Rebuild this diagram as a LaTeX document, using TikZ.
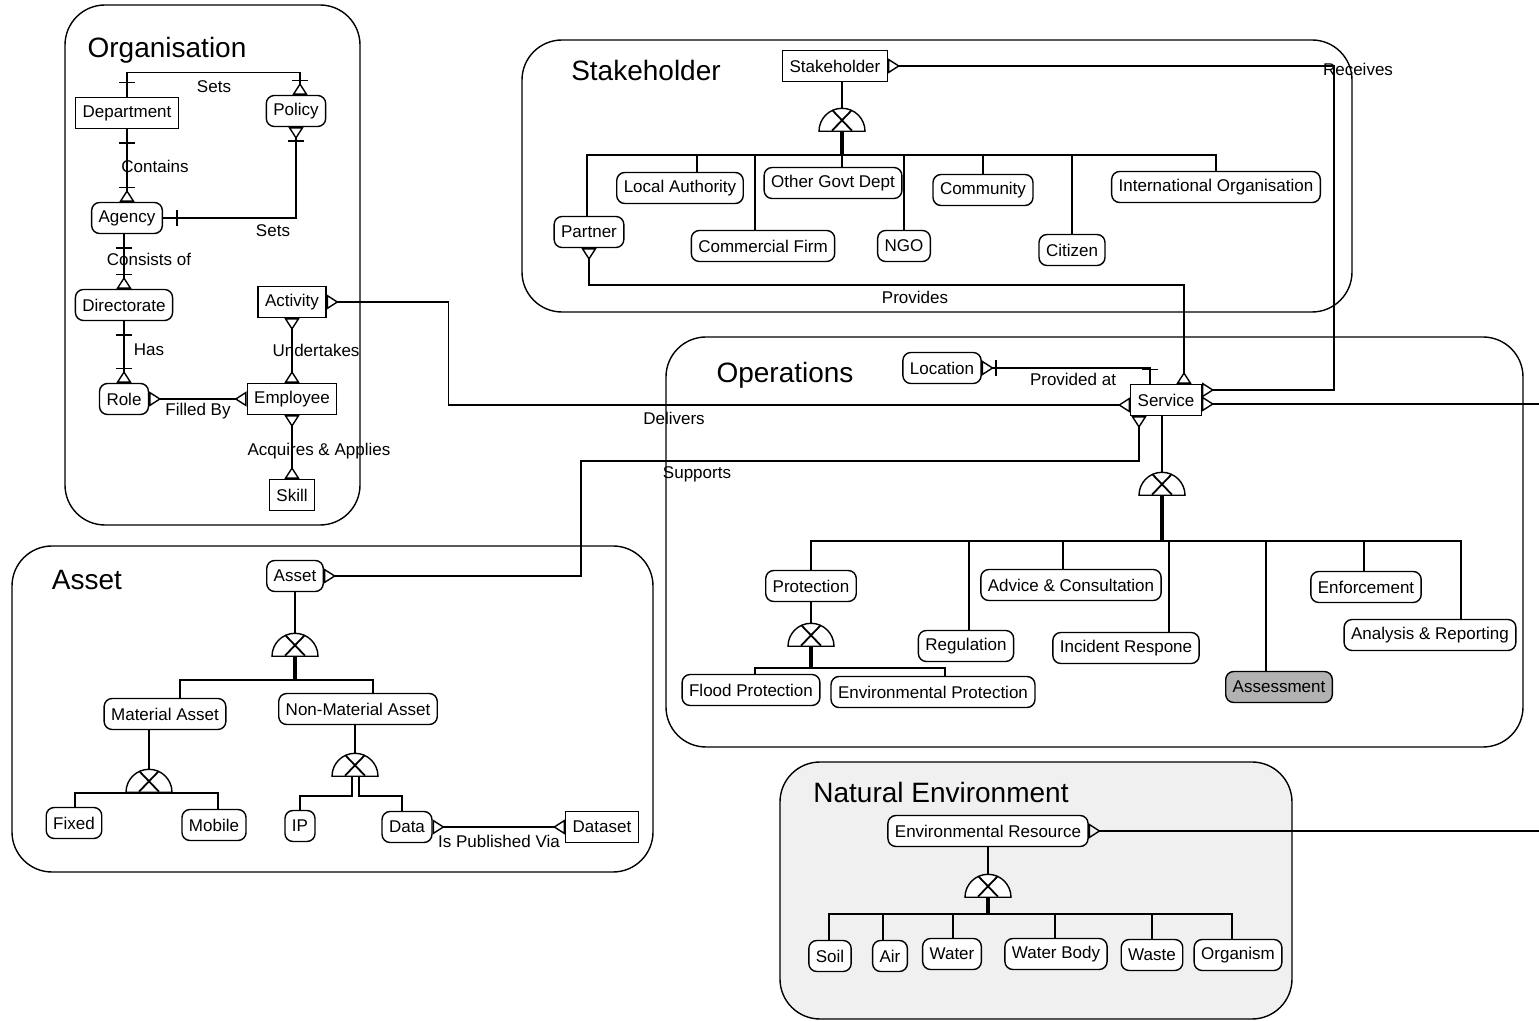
\documentclass[tikz,border=0pt]{standalone}
\usepackage{fontspec}
\setmainfont{Liberation Sans}
\usetikzlibrary{arrows.meta,shapes.geometric,decorations.markings}

\tikzset{
  >={Triangle[open,reversed,length=6pt,width=7.5pt]},
  entity/.style={draw, fill=white, font=\fontsize{8.5}{10}\selectfont, minimum height=15.5pt, inner xsep=3.5pt, inner ysep=0pt},
  thing/.style={entity, rounded corners=4pt},
  grp/.style={draw, rounded corners=20pt},
  grptitle/.style={font=\fontsize{14}{16}\selectfont},
  rel/.style={font=\fontsize{8.5}{10}\selectfont},
  trunk/.style={line width=1.6pt},
  % exclusive sub-types
  xorgate/.style={semicircle, draw, fill=white, inner sep=0pt, minimum width=23pt, minimum height=11.5pt,
    path picture={\draw[line width=0.9pt]
      ([shift={(-5pt,0.3pt)}]path picture bounding box.south) -- ([shift={(5pt,-0.8pt)}]path picture bounding box.north)
      ([shift={(5pt,0.3pt)}]path picture bounding box.south) -- ([shift={(-5pt,-0.8pt)}]path picture bounding box.north);}},
  bar start/.style={postaction={decorate,decoration={markings,mark=at position 7pt with {\draw[-] (0,-4pt) -- (0,4pt);}}}},
  bar end/.style={postaction={decorate,decoration={markings,mark=at position -7pt with {\draw[-] (0,-4pt) -- (0,4pt);}}}}
}

\begin{document}
\begin{tikzpicture}[x=0.5pt, y=-0.5pt, line width=0.7pt]
  \useasboundingbox (0,0) rectangle (1539,1021);

  % groups
  \draw[grp] (65,5) rectangle (360,525);
  \draw[grp] (522,40) rectangle (1352,312);
  \draw[grp] (666,337) rectangle (1523,747);
  \draw[grp] (12,546) rectangle (653,872);
  \draw[grp, fill=black!6] (780,762) rectangle (1292,1019);

  \node[grptitle] (torg) at (167,50) {Organisation};
  \node[grptitle] (tstake) at (646,70) {Stakeholder};
  \node[grptitle] (tops) at (785,375) {Operations};
  \node[grptitle] (tasset) at (87,580) {Asset};
  \node[grptitle] (tnat) at (941,792) {Natural Environment};

  % Organisation
  \node[entity] (dept) at (127,113) {Department};
  \node[thing] (policy) at (296,111) {Policy};
  \node[thing] (agency) at (127,218) {Agency};
  \node[thing] (directorate) at (124,305) {Directorate};
  \node[entity] (activity) at (292,302) {Activity};
  \node[thing] (role) at (124,399) {Role};
  \node[entity] (employee) at (292,399) {Employee};
  \node[entity] (skill) at (292,495) {Skill};

  \draw[bar start, bar end, ->] (dept.north) -- ++(0,-24) -| ([xshift=2pt]policy.north) node[rel] (lsets1) at (214,87) {Sets};
  \draw[bar start, bar end, ->] (dept.south) -- (agency.north) node[rel] (lcontains) at (155,166) {Contains};
  \draw[bar start, bar end, <-] (policy.south) |- (agency.east) node[rel] (lsets2) at (273,231) {Sets};
  \draw[bar start, bar end, ->] ([xshift=-1.5pt]agency.south) -- (directorate.north) node[rel] (lconsists) at (149,259) {Consists of};
  \draw[bar start, bar end, ->] (directorate.south) -- (role.north) node[rel] (lhas) at (149,350) {Has};
  \draw[<->] (activity.south) -- (employee.north) node[rel] (lundertakes) at (316,350) {Undertakes};
  \draw[<->] (role.east) -- (employee.west) node[rel] (lfilled) at (198,411) {Filled By};
  \draw[<->] (employee.south) -- (skill.north) node[rel] (lacquires) at (319,451) {Acquires \& Applies};

  % Stakeholder
  \node[entity] (stakeholder) at (835,66) {Stakeholder};
  \node[thing] (partner) at (589,232) {Partner};
  \node[thing] (localauth) at (680,188) {Local Authority};
  \node[thing] (commercial) at (763,246) {Commercial Firm};
  \node[thing] (othergovt) at (833,183) {Other Govt Dept};
  \node[thing] (ngo) at (904,246) {NGO};
  \node[thing] (community) at (983,190) {Community};
  \node[thing] (citizen) at (1072,250) {Citizen};
  \node[thing] (intorg) at (1216,187) {International Organisation};

  \node[xorgate, anchor=chord center] (sgate) at (842,132) {};
  \coordinate (sbar) at (842,155);
  \draw ([xshift=3.5pt]stakeholder.south) -- (sgate.apex);
  \draw[trunk] (sgate.chord center) -- (sbar);
  \foreach \c/\dx in {partner/-1,localauth/8.5,commercial/-4,othergovt/4.5,ngo/0,community/0,citizen/0,intorg/0}
    \draw (sbar) -| ([xshift=\dx pt]\c.north);

  % Operations
  \node[thing] (location) at (942,368) {Location};
  \node[entity] (service) at (1166,400) {Service};
  \node[thing] (protection) at (811,586) {Protection};
  \node[thing] (regulation) at (966,646) {Regulation};
  \node[thing] (advice) at (1071,585) {Advice \& Consultation};
  \node[thing] (incident) at (1126,648) {Incident Respone};
  \node[thing, fill=black!30] (assessment) at (1279,687) {Assessment};
  \node[thing] (enforcement) at (1366,587) {Enforcement};
  \node[thing] (analysis) at (1430,635) {Analysis \& Reporting};
  \node[thing] (flood) at (751,690) {Flood Protection};
  \node[thing] (envprot) at (933,692) {Environmental Protection};

  \node[xorgate, anchor=chord center] (ogate) at (1162,496) {};
  \coordinate (obar) at (1162,541);
  \draw ([xshift=-2pt]service.south) -- (ogate.apex);
  \draw[trunk] (ogate.chord center) -- (obar);
  \foreach \c/\dx in {protection/0,regulation/1.5,advice/-4,incident/21.5,assessment/-6.5,enforcement/-1,analysis/15.5}
    \draw (obar) -| ([xshift=\dx pt]\c.north);

  \node[xorgate, anchor=chord center] (pgate) at (811,647) {};
  \coordinate (pbar) at (811,668);
  \draw (protection.south) -- (pgate.apex);
  \draw[trunk] (pgate.chord center) -- (pbar);
  \foreach \c/\dx in {flood/2,envprot/6}
    \draw (pbar) -| ([xshift=\dx pt]\c.north);

  \draw[<-, bar start, bar end] (location.east) -| ([xshift=-8pt]service.north) node[rel] (lprovided) at (1073,379) {Provided at};
  \draw[<->] (activity.east) -- ++(122,0) |- ([yshift=-2.5pt]service.west) node[rel] (ldelivers) at (674,418) {Delivers};
  \draw[<->] (partner.south) -- ++(0,37) -| ([xshift=9pt]service.north) node[rel] (lprovides) at (915,297) {Provides};
  \draw[<->] (stakeholder.east) -- ++(446,0) |- ([yshift=5pt]service.east) node[rel] (lreceives) at (1358,69) {Receives};

  % Asset
  \node[thing] (asset) at (295,576) {Asset};
  \node[thing] (matasset) at (165,714) {Material Asset};
  \node[thing] (nonmat) at (358,709) {Non-Material Asset};
  \node[thing] (fixed) at (74,823) {Fixed};
  \node[thing] (mobile) at (214,825) {Mobile};
  \node[thing] (ip) at (300,826) {IP};
  \node[thing] (data) at (407,827) {Data};
  \node[entity] (dataset) at (602,827) {Dataset};

  \node[xorgate, anchor=chord center] (agate) at (295,657) {};
  \coordinate (abar) at (295,680);
  \draw (asset.south) -- (agate.apex);
  \draw[trunk] (agate.chord center) -- (abar);
  \foreach \c/\dx in {matasset/7.5,nonmat/7.5}
    \draw (abar) -| ([xshift=\dx pt]\c.north);

  \node[xorgate, anchor=chord center] (mgate) at (149,793) {};
  \draw ([xshift=-8pt]matasset.south) -- (mgate.apex);
  \foreach \c/\dx in {fixed/0.5,mobile/2}
    \draw (mgate.chord center) -| ([xshift=\dx pt]\c.north);

  \node[xorgate, anchor=chord center] (ngate) at (355,777) {};
  \draw ([xshift=-1.5pt]nonmat.south) -- (ngate.apex);
  \draw ([xshift=-1.5pt]ngate.chord center) -- ++(0,19) -| (ip.north);
  \draw ([xshift=2pt]ngate.chord center) -- ++(0,19) -| ([xshift=-2.5pt]data.north);
  \draw[<->] (data.east) -- (dataset.west) node[rel] (lpublished) at (499,841) {Is Published Via};

  \draw[<->] ([xshift=-13.5pt]service.south) -- ++(0,45) -- ++(-558,0) |- (asset.east) node[rel] (lsupports) at (697,474) {Supports};

  % Natural Environment
  \node[thing] (envres) at (988,831) {Environmental Resource};
  \node[thing] (soil) at (830,956) {Soil};
  \node[thing] (air) at (890,956) {Air};
  \node[thing] (water) at (952,954) {Water};
  \node[thing] (waterbody) at (1056,954) {Water Body};
  \node[thing] (waste) at (1152,955) {Waste};
  \node[thing] (organism) at (1238,955) {Organism};

  \node[xorgate, anchor=chord center] (egate) at (988,898) {};
  \coordinate (ebar) at (988,914);
  \draw (envres.south) -- (egate.apex);
  \draw[trunk] (egate.chord center) -- (ebar);
  \foreach \c/\dx in {soil/-0.5,air/-3.5,water/0.5,waterbody/-0.5,waste/0,organism/-3}
    \draw (ebar) -| ([xshift=\dx pt]\c.north);

  % off to the right
  \coordinate (edgeS) at (1539,404);
  \coordinate (edgeE) at (1539,831);
  \draw[<-] ([yshift=-2pt]service.east) -- (edgeS);
  \draw[<-] (envres.east) -- (edgeE);
\end{tikzpicture}
\end{document}
